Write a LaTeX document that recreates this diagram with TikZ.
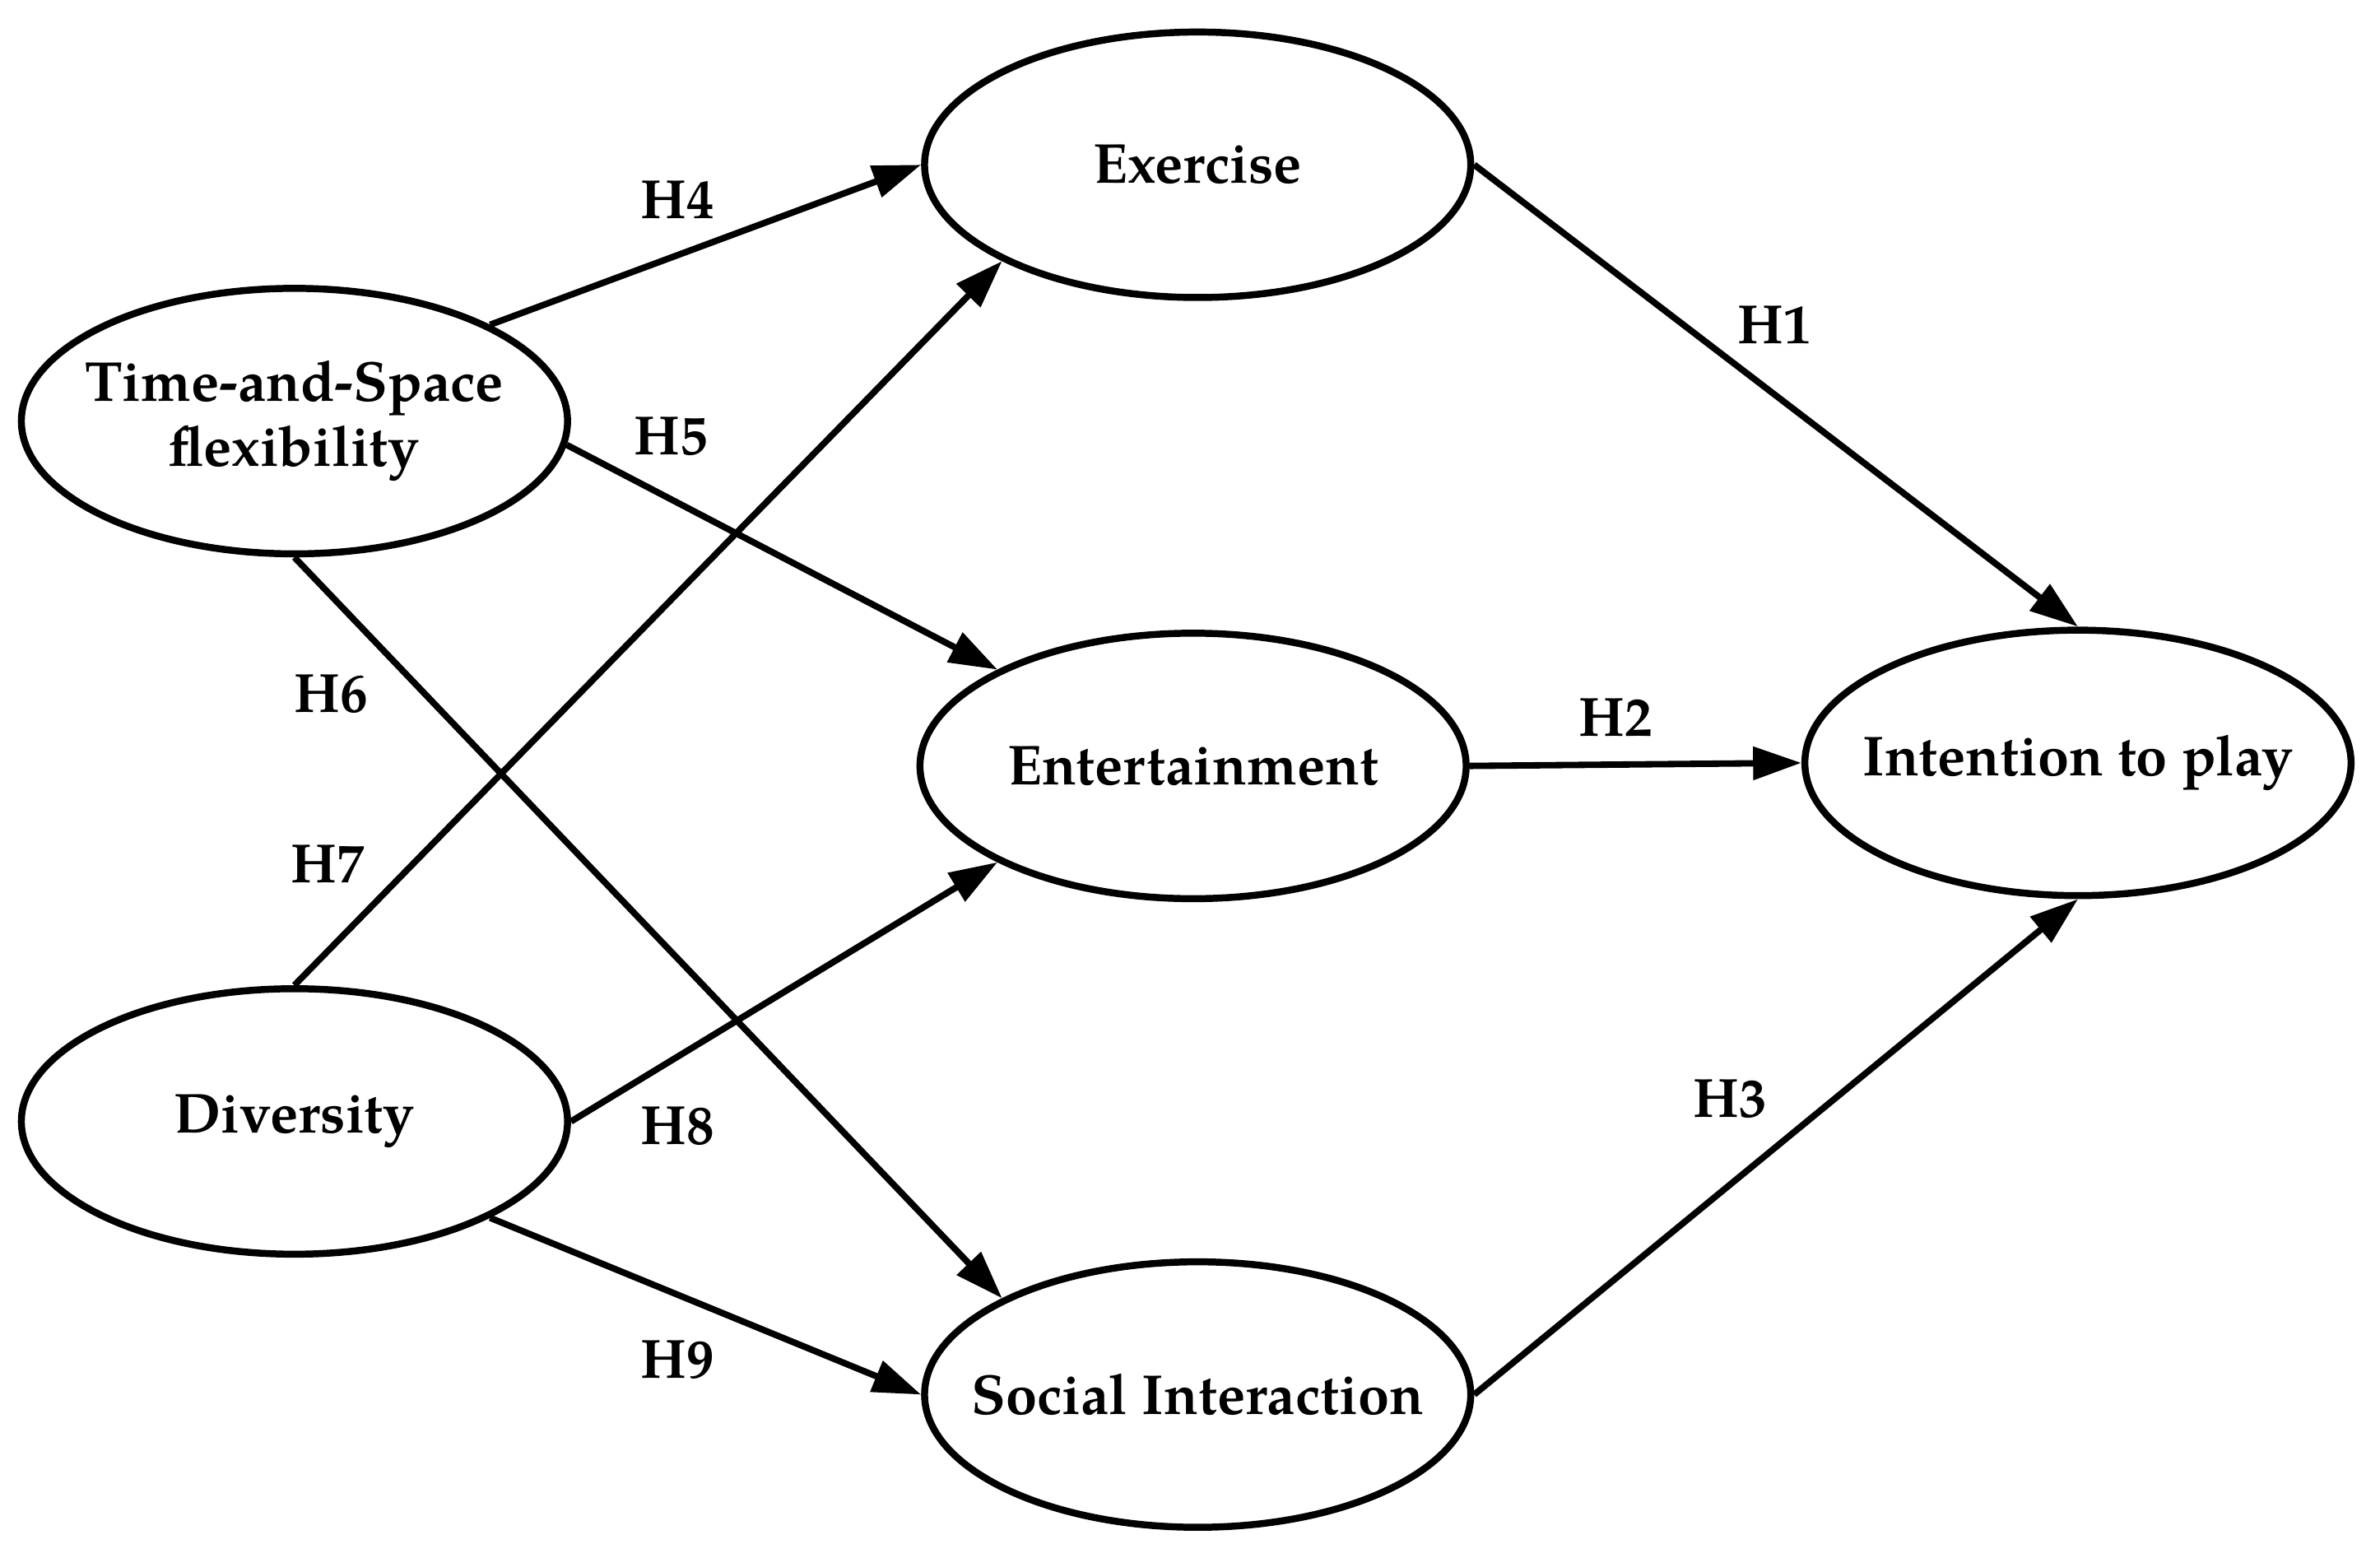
\documentclass[tikz,border=0pt]{standalone}
\usepackage{fontspec}
\setmainfont{TeX Gyre Pagella}
\usetikzlibrary{shapes.geometric, arrows.meta}

\begin{document}
\begin{tikzpicture}[
    >={Triangle[length=9pt, width=6pt]},
    construct/.style={ellipse, draw, line width=1.3pt, minimum width=3.58cm, minimum height=1.74cm, inner sep=0pt, label={[label_style]center:#1}},
    path_arrow/.style={->, line width=1.2pt},
    label_style/.style={font=\fontsize{10.5}{12.2}\selectfont\bfseries, align=center},
    hyp_style/.style={font=\fontsize{10.3}{12}\selectfont\bfseries}
]

% Fix the page size
\useasboundingbox (0,0) rectangle (15.6,-10.206);

% Constructs
\node[construct={Exercise}] (exercise) at (7.85,-1.08) {};
\node[construct={Time-and-Space\\flexibility}] (time_space) at (1.93,-2.76) {};
\node[construct={Entertainment}] (entertainment) at (7.82,-5.02) {};
\node[construct={Intention to play}] (intention) at (13.62,-5.00) {};
\node[construct={Diversity}] (diversity) at (1.93,-7.35) {};
\node[construct={Social Interaction}] (social) at (7.85,-9.14) {};

% Draw the paths
\draw[path_arrow] (time_space.north east) -- (exercise.west);
\draw[path_arrow] (time_space.-5) -- (entertainment.north west);
\draw[path_arrow] (time_space.south) -- (social.north west);
\draw[path_arrow] (diversity.north) -- (exercise.south west);
\draw[path_arrow] (diversity.east) -- (entertainment.south west);
\draw[path_arrow] (diversity.south east) -- (social.west);
\draw[path_arrow] (exercise.east) -- (intention.north);
\draw[path_arrow] (entertainment.east) -- (intention.west);
\draw[path_arrow] (social.east) -- (intention.south);

% Hypothesis labels
\node[hyp_style] (h1) at (11.63,-2.13) {H1};
\node[hyp_style] (h2) at (10.59,-4.70) {H2};
\node[hyp_style] (h3) at (11.34,-7.20) {H3};
\node[hyp_style] (h4) at (4.44,-1.31) {H4};
\node[hyp_style] (h5) at (4.40,-2.86) {H5};
\node[hyp_style] (h6) at (2.17,-4.55) {H6};
\node[hyp_style] (h7) at (2.15,-5.66) {H7};
\node[hyp_style] (h8) at (4.44,-7.38) {H8};
\node[hyp_style] (h9) at (4.44,-8.91) {H9};

\end{tikzpicture}
\end{document}
